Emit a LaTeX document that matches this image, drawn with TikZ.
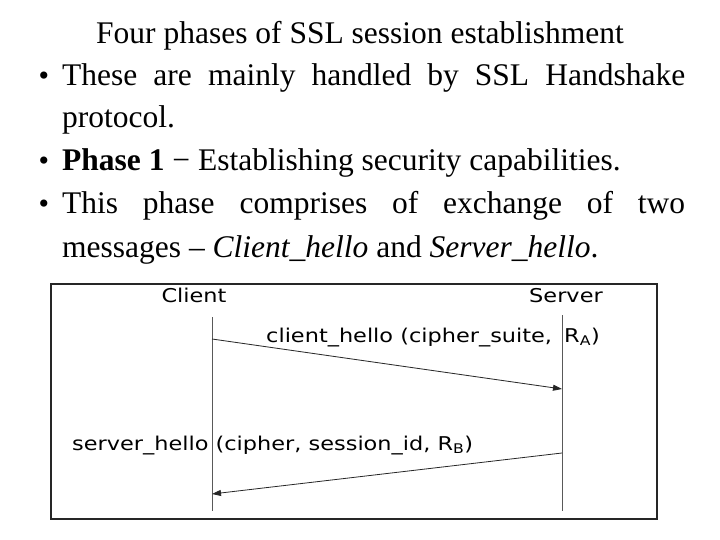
\documentclass[tikz,border=0pt]{standalone}
\usepackage{fontspec}
\setmainfont{Liberation Serif}
\newfontfamily\handfont[FakeStretch=1.18]{DejaVu Sans}
\usepackage{tikz}
\usetikzlibrary{arrows.meta, positioning}

\begin{document}
\begin{tikzpicture}[x=1pt, y=-1pt,
  txt/.style={anchor=base west, inner sep=0pt, font=\fontsize{31.5}{36}\selectfont},
  dot/.style={anchor=base, inner sep=0pt, font=\fontsize{30}{36}\selectfont},
  lbl/.style={anchor=base west, inner sep=0pt, font=\handfont\fontsize{19}{22}\selectfont},
  life/.style={draw=black!65, line width=0.8pt},
  msg/.style={-{Triangle[length=9pt, width=6pt]}, line width=0.8pt, draw=black!85}]
  \useasboundingbox (0,0) rectangle (720,540);
  % text part
  \node[txt, anchor=base] (title) at (360,44) {Four phases of SSL session establishment};
  \node[dot] (b1) at (44,86) {•};
  \node[txt] (l1) at (62,86) {\makebox[623pt][s]{These are mainly handled by SSL Handshake}};
  \node[txt] (l2) at (62,128) {protocol.};
  \node[dot] (b2) at (44,171) {•};
  \node[txt] (l3) at (62,171) {\textbf{Phase 1} − Establishing security capabilities.};
  \node[dot] (b3) at (44,214) {•};
  \node[txt] (l4) at (62,214) {\makebox[623pt][s]{This phase comprises of exchange of two}};
  \node[txt] (l5) at (62,257) {messages – \textit{Client\_hello} and \textit{Server\_hello}.};
  % diagram
  \draw[line width=1.2pt, draw=black!85] (51,284) rectangle (657,519);
  \node[lbl, anchor=base] (client) at (194,302) {Client};
  \node[lbl, anchor=base] (server) at (566,302) {Server};
  \coordinate (c0) at (212,317); \coordinate (c9) at (212,511);
  \coordinate (s0) at (562,315); \coordinate (s9) at (562,511);
  \draw[life] (c0) -- (c9);
  \draw[life] (s0) -- (s9);
  \coordinate (c1) at (212,339); \coordinate (s1) at (562,389);
  \coordinate (s2) at (562,453); \coordinate (c2) at (212,494);
  \draw[msg] (c1) -- (s1);
  \draw[msg] (s2) -- (c2);
  \node[lbl] (m1) at (266,342) {client\_hello (cipher\_suite,\hspace{5pt} R\textsubscript{A})};
  \node[lbl] (m2) at (72,450) {server\_hello (cipher, session\_id, R\textsubscript{B})};
\end{tikzpicture}
\end{document}
